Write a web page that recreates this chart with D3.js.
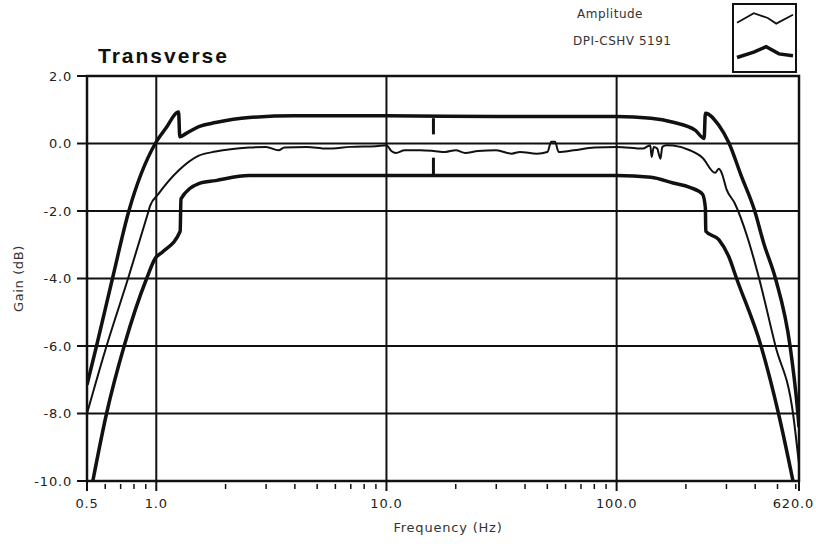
<!DOCTYPE html>
<html lang="en">
<head>
<meta charset="UTF-8">
<title>Transverse</title>
<script src="https://d3js.org/d3.v7.min.js"></script>
<style>
  body { margin: 0; background: #fff; }
  svg { display: block; font-family: "DejaVu Sans", Arial, sans-serif; }
</style>
</head>
<body>
<svg id="chart" width="816" height="550"></svg>
<script>
// gain curves as [frequency Hz, gain dB]
const upperLimit = [
  [0.5,-7.15],[0.55,-6.0],[0.645,-4.0],[0.76,-2.0],[0.99,0.0],[1.1,0.45],[1.25,0.93],
  [1.265,0.2],[1.35,0.3],[1.53,0.5],[1.81,0.62],[2.53,0.77],[4,0.82],[10,0.82],
  [30,0.8],[60,0.8],[100,0.8],[141,0.75],[176,0.63],[220,0.39],[240,0.15],[243,0.9],
  [278,0.54],[307,0.03],[348,-0.96],[396,-1.95],[436,-2.96],[490,-4.0],[567,-6.0],
  [613,-8.0],[620,-8.4]
];
const amplitude = [
  [0.5,-8.0],[0.608,-6.0],[0.754,-4.0],[0.926,-2.0],[0.94,-1.85],[1.02,-1.5],[1.25,-0.8],
  [1.53,-0.36],[1.81,-0.24],[2.53,-0.12],[3.0,-0.1],[3.4,-0.2],[3.6,-0.12],[4.5,-0.1],
  [5.5,-0.15],[7,-0.1],[9,-0.08],[10,-0.05],[10.5,-0.22],[11,-0.28],[12,-0.2],[14,-0.2],
  [16,-0.22],[18,-0.25],[20,-0.2],[22,-0.28],[25,-0.22],[30,-0.2],[35,-0.3],[38,-0.25],
  [45,-0.3],[50,-0.25],[52,0.05],[54,0.05],[56,-0.25],[65,-0.2],[80,-0.12],[100,-0.1],
  [130,-0.15],[140,-0.05],[142,-0.4],[145,-0.1],[150,-0.15],[155,-0.45],[158,-0.1],
  [165,-0.05],[176,-0.06],[208,-0.2],[236,-0.42],[268,-0.87],[278,-0.75],[286,-0.87],
  [300,-1.35],[326,-1.77],[373,-2.85],[416,-4.0],[490,-6.0],[584,-8.0],[620,-9.5]
];
const lowerLimit = [
  [0.53,-10],[0.608,-8],[0.725,-6],[0.908,-4],[0.99,-3.4],[1.07,-3.2],[1.27,-2.6],
  [1.28,-1.64],[1.53,-1.19],[1.81,-1.1],[2.53,-0.95],[10,-0.95],[100,-0.95],[141,-1.0],
  [176,-1.17],[208,-1.3],[236,-1.5],[243,-1.9],[244,-2.6],[278,-2.85],[307,-3.35],
  [332,-4.0],[424,-6.0],[505,-8.0],[584,-10]
];
// cursor marker
const cursorFreq = 16;
const cursorBars = [[0.75,0.27],[-0.42,-0.92]];

const yTicks = [2, 0, -2, -4, -6, -8, -10];
const yGrid = [0, -2, -4, -6, -8];
const xLabels = [0.5, 1, 10, 100, 620];
const xGrid = [1, 10, 100];
const xMinor = [0.6,0.7,0.8,0.9,2,3,4,5,6,7,8,9,20,30,40,50,60,70,80,90,200,300,400,500,600];
const legendNames = ["Amplitude", "DPI-CSHV 5191"];
// legend sample shapes, relative 0..1
const legendThin = [[0,0.8],[0.3,0.2],[0.55,0.5],[0.7,0.85],[1,0.3]];
const legendThick = [[0,0.75],[0.3,0.45],[0.52,0.15],[0.75,0.55],[1,0.65]];

const svg = d3.select("#chart");
const L = 87, R = 799, T = 76, B = 481;
const x = d3.scaleLog().domain([0.5, 620]).range([L, R]);
const y = d3.scaleLinear().domain([-10, 2]).range([B, T]);
const ink = "#111";

// grid
svg.append("g").selectAll("line").data(yGrid).join("line")
  .attr("x1", L).attr("x2", R).attr("y1", d => y(d)).attr("y2", d => y(d))
  .attr("stroke", ink).attr("stroke-width", 2);
svg.append("g").selectAll("line").data(xGrid).join("line")
  .attr("x1", d => x(d)).attr("x2", d => x(d)).attr("y1", T).attr("y2", B)
  .attr("stroke", ink).attr("stroke-width", 2);

// curves
const line = d3.line().x(d => x(d[0])).y(d => y(d[1])).curve(d3.curveMonotoneX);
svg.append("clipPath").attr("id", "clip").append("rect")
  .attr("x", L).attr("y", T).attr("width", R - L).attr("height", B - T);
const plot = svg.append("g").attr("clip-path", "url(#clip)");
[upperLimit, lowerLimit].forEach(s => plot.append("path").datum(s)
  .attr("d", line).attr("fill", "none").attr("stroke", ink)
  .attr("stroke-width", 3.5).attr("stroke-linejoin", "round"));
plot.append("path").datum(amplitude).attr("d", line).attr("fill", "none")
  .attr("stroke", ink).attr("stroke-width", 2).attr("stroke-linejoin", "round");
plot.selectAll(".cur").data(cursorBars).join("line")
  .attr("x1", x(cursorFreq)).attr("x2", x(cursorFreq))
  .attr("y1", d => y(d[0])).attr("y2", d => y(d[1]))
  .attr("stroke", ink).attr("stroke-width", 3);

// frame
svg.append("rect").attr("x", L).attr("y", T).attr("width", R - L).attr("height", B - T)
  .attr("fill", "none").attr("stroke", ink).attr("stroke-width", 2.5);

// y axis
const yAxis = svg.append("g");
yAxis.selectAll("line").data(yTicks).join("line")
  .attr("x1", L - 10).attr("x2", L).attr("y1", d => y(d)).attr("y2", d => y(d))
  .attr("stroke", ink).attr("stroke-width", 2);
yAxis.selectAll("text").data(yTicks).join("text")
  .attr("x", L - 15).attr("y", d => y(d)).attr("dy", "0.35em")
  .attr("text-anchor", "end").attr("font-size", 13).attr("letter-spacing", 0.8)
  .attr("fill", "#222").text(d => d.toFixed(1));

// x axis
const xAxis = svg.append("g");
xAxis.selectAll(".mn").data(xMinor).join("line")
  .attr("x1", d => x(d)).attr("x2", d => x(d)).attr("y1", B + 3).attr("y2", B + 8)
  .attr("stroke", ink).attr("stroke-width", 1.5);
xAxis.selectAll(".mj").data(xLabels).join("line")
  .attr("x1", d => x(d)).attr("x2", d => x(d)).attr("y1", B).attr("y2", B + 10)
  .attr("stroke", ink).attr("stroke-width", 2);
xAxis.selectAll("text").data(xLabels).join("text")
  .attr("x", d => x(d)).attr("y", B + 27)
  .attr("text-anchor", (d, i) => i === xLabels.length - 1 ? "end" : "middle")
  .attr("dx", (d, i) => i === xLabels.length - 1 ? 15 : 0)
  .attr("font-size", 13).attr("letter-spacing", 0.8).attr("fill", "#222")
  .text(d => d.toFixed(1));

// titles
svg.append("text").attr("x", 98).attr("y", 63)
  .attr("font-family", "'Liberation Sans', Arial, sans-serif")
  .attr("font-weight", "bold").attr("font-size", 21).attr("letter-spacing", 2)
  .attr("fill", "#111").text("Transverse");
svg.append("text").attr("x", 448).attr("y", 532)
  .attr("text-anchor", "middle").attr("font-size", 13).attr("letter-spacing", 0.8)
  .attr("fill", "#333").text("Frequency (Hz)");
svg.append("text").attr("transform", `translate(23,${(T + B) / 2}) rotate(-90)`)
  .attr("text-anchor", "middle").attr("font-size", 13).attr("letter-spacing", 0.6)
  .attr("fill", "#333").text("Gain (dB)");

// legend
const lg = svg.append("g");
const lx = d3.scaleLinear().domain([0, 1]).range([737, 793]);
const ly1 = d3.scaleLinear().domain([0, 1]).range([10, 26]);
const ly2 = d3.scaleLinear().domain([0, 1]).range([44, 62]);
lg.append("rect").attr("x", 733).attr("y", 4).attr("width", 63).attr("height", 68)
  .attr("fill", "#fff").attr("stroke", ink).attr("stroke-width", 2);
lg.append("path").datum(legendThin)
  .attr("d", d3.line().x(d => lx(d[0])).y(d => ly1(d[1])))
  .attr("fill", "none").attr("stroke", ink).attr("stroke-width", 1.8);
lg.append("path").datum(legendThick)
  .attr("d", d3.line().x(d => lx(d[0])).y(d => ly2(d[1])))
  .attr("fill", "none").attr("stroke", ink).attr("stroke-width", 3.5);
lg.selectAll("text").data(legendNames).join("text")
  .attr("x", (d, i) => i === 0 ? 577 : 573).attr("y", (d, i) => i === 0 ? 18 : 45)
  .attr("font-size", 12).attr("letter-spacing", 0.5).attr("fill", "#333").text(d => d);
</script>
</body>
</html>
